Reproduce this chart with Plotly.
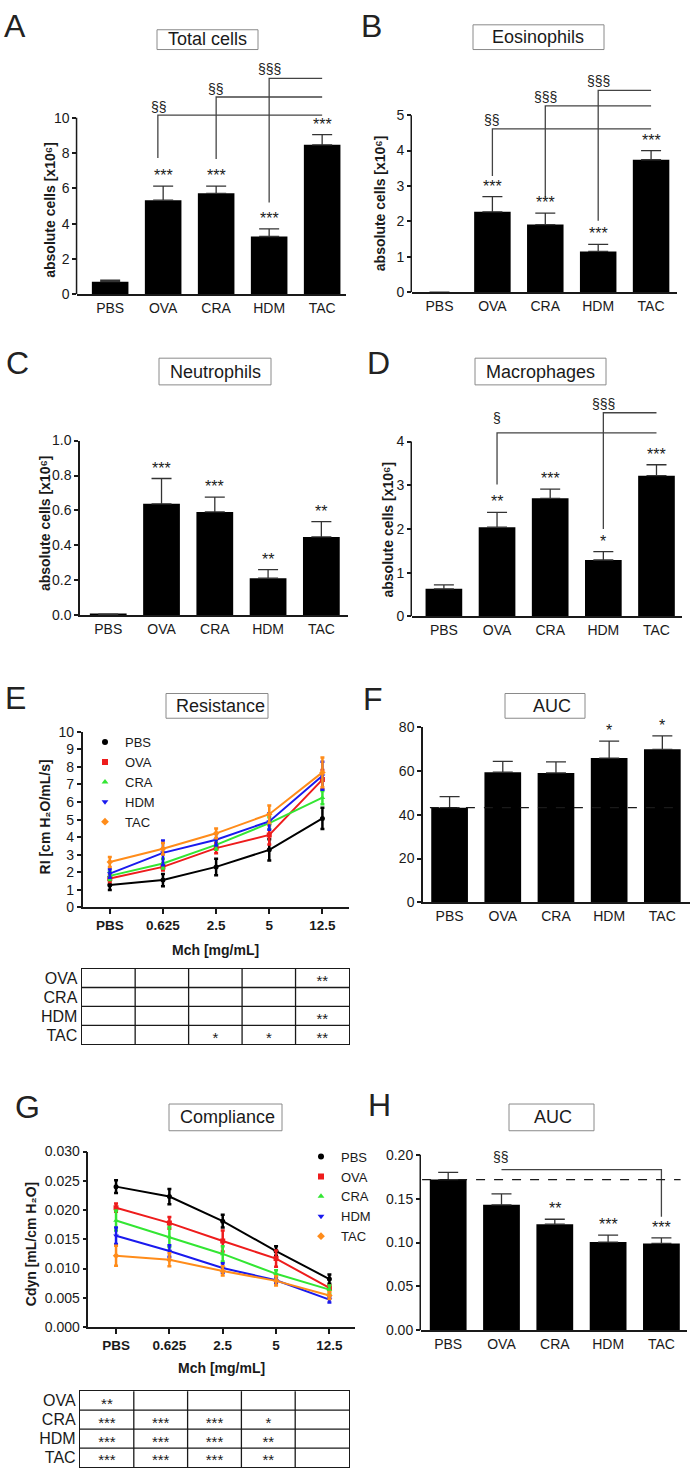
import plotly.graph_objects as go

W, H = 694, 1481
FONT = "Liberation Sans, Arial, Helvetica, sans-serif"
INK = "#1a1a1a"

groups = ["PBS", "OVA", "CRA", "HDM", "TAC"]
doses = ["PBS", "0.625", "2.5", "5", "12.5"]

# ---- A: Total cells
total_mean = [0.71, 5.33, 5.72, 3.27, 8.47]
total_sem = [0.08, 0.80, 0.41, 0.43, 0.58]
total_sig = ["", "***", "***", "***", "***"]
# (x_from, x_to, y_line, drop_from, drop_to, label, label_x, label_y)
total_brackets = [(0.9, 4, 10.15, 7.72, None, "§§", 0.92, 10.6),
                  (2, 4, 11.18, 7.66, None, "§§", 2.0, 11.64),
                  (3, 4, 12.24, 5.2, None, "§§§", 3.0, 12.77)]

# ---- B: Eosinophils
eos_mean = [0.0, 2.27, 1.91, 1.15, 3.74]
eos_sem = [0.0, 0.43, 0.32, 0.20, 0.26]
eos_sig = ["", "***", "***", "***", "***"]
eos_brackets = [(1, 4, 4.61, 3.28, None, "§§", 1, 4.86),
                (2, 4, 5.26, 2.67, None, "§§§", 2, 5.51),
                (3, 4, 5.70, 2.02, None, "§§§", 3, 5.96)]

# ---- C: Neutrophils
neu_mean = [0.005, 0.638, 0.592, 0.213, 0.449]
neu_sem = [0.002, 0.145, 0.085, 0.049, 0.087]
neu_sig = ["", "***", "***", "**", "**"]

# ---- D: Macrophages
mac_mean = [0.63, 2.04, 2.70, 1.29, 3.22]
mac_sem = [0.09, 0.34, 0.21, 0.19, 0.25]
mac_sig = ["", "**", "***", "*", "***"]
mac_brackets = [(1, 4, 4.20, 3.02, None, "§", 1, 4.53),
                (3, 4, 4.66, 2.0, None, "§§§", 3, 4.87)]

# ---- E: Resistance
res_mean = {
    "PBS": [1.28, 1.56, 2.31, 3.28, 5.07],
    "OVA": [1.65, 2.31, 3.38, 4.13, 7.28],
    "CRA": [1.80, 2.50, 3.56, 4.80, 6.25],
    "HDM": [1.93, 3.11, 3.86, 4.90, 7.50],
    "TAC": [2.59, 3.34, 4.22, 5.31, 7.69],
}
res_sem = {
    "PBS": [0.28, 0.35, 0.47, 0.60, 0.60],
    "OVA": [0.20, 0.20, 0.30, 0.55, 0.55],
    "CRA": [0.23, 0.28, 0.28, 0.33, 0.38],
    "HDM": [0.24, 0.70, 0.33, 0.47, 0.80],
    "TAC": [0.28, 0.33, 0.28, 0.50, 0.85],
}
res_table = {"OVA": ["", "", "", "", "**"],
             "CRA": ["", "", "", "", ""],
             "HDM": ["", "", "", "", "**"],
             "TAC": ["", "", "*", "*", "**"]}

# ---- F: AUC resistance
aucr_mean = [43.3, 59.5, 59.2, 66.0, 70.0]
aucr_sem = [5.0, 5.0, 5.0, 7.7, 6.1]
aucr_sig = ["", "", "", "*", "*"]

# ---- G: Compliance
cmp_mean = {
    "PBS": [0.0240, 0.0223, 0.0181, 0.0130, 0.0082],
    "OVA": [0.0204, 0.0178, 0.0147, 0.0117, 0.0067],
    "CRA": [0.0182, 0.0154, 0.0125, 0.0091, 0.0064],
    "HDM": [0.0156, 0.0130, 0.0101, 0.0080, 0.0047],
    "TAC": [0.0122, 0.0115, 0.0096, 0.0079, 0.0054],
}
cmp_sem = {
    "PBS": [0.0011, 0.0013, 0.0011, 0.0008, 0.0008],
    "OVA": [0.0007, 0.0010, 0.0018, 0.0014, 0.0004],
    "CRA": [0.0017, 0.0017, 0.0013, 0.0006, 0.0007],
    "HDM": [0.0014, 0.0010, 0.0008, 0.0005, 0.0005],
    "TAC": [0.0017, 0.0011, 0.0008, 0.0008, 0.0006],
}
cmp_table = {"OVA": ["**", "", "", "", ""],
             "CRA": ["***", "***", "***", "*", ""],
             "HDM": ["***", "***", "***", "**", ""],
             "TAC": ["***", "***", "***", "**", ""]}

# ---- H: AUC compliance
aucc_mean = [0.1717, 0.143, 0.1209, 0.1005, 0.099]
aucc_sem = [0.0083, 0.0125, 0.0056, 0.0079, 0.0064]
aucc_sig = ["", "", "**", "***", "***"]
aucc_brackets = [(1, 4, 0.183, None, 0.1295, "§§", 1, 0.198)]

series_colors = {"PBS": "#000000", "OVA": "#ee1c1c", "CRA": "#33e633",
                 "HDM": "#1a1aee", "TAC": "#ff8c1a"}
series_symbols = {"PBS": "circle", "OVA": "square", "CRA": "triangle-up",
                  "HDM": "triangle-down", "TAC": "diamond"}

# ---------------------------------------------------------------------------
traces, shapes, annotations = [], [], []
layout = dict(width=W, height=H, margin=dict(l=0, r=0, t=0, b=0),
              paper_bgcolor="white", plot_bgcolor="rgba(0,0,0,0)",
              font=dict(family=FONT, color=INK, size=14), showlegend=True)


def px_x(p):
    return p / W


def px_y(p):
    return 1 - p / H


def ids(n):
    s = "" if n == 1 else str(n)
    return "x" + s, "y" + s, "xaxis" + s, "yaxis" + s


def axes(n, xdom, xr, y0px, yref_px, yref_val, ytop, ymax, dtick, fmt,
         xticktext, xbold=False, xticks=""):
    xid, yid, xk, yk = ids(n)
    ppu = (y0px - yref_px) / yref_val
    top_px = y0px - ppu * ytop
    nt = int(round(ymax / dtick))
    tv = [i * dtick for i in range(nt + 1)]
    layout[xk] = dict(domain=[px_x(xdom[0]), px_x(xdom[1])], range=xr, anchor=yid,
                      tickmode="array", tickvals=list(range(len(xticktext))),
                      ticktext=xticktext,
                      ticks=xticks, ticklen=5, tickwidth=1.5, tickcolor=INK,
                      showline=True, linecolor=INK, linewidth=1.5,
                      showgrid=False, zeroline=False,
                      tickfont=dict(size=14 if not xbold else 13.5,
                                    weight="bold" if xbold else "normal"),
                      fixedrange=True)
    layout[yk] = dict(domain=[px_y(y0px), px_y(top_px)], range=[0, ytop], anchor=xid,
                      tickmode="array", tickvals=tv, ticks="outside", ticklen=4,
                      tickwidth=1.5, tickcolor=INK, showline=(ytop == ymax),
                      linecolor=INK, linewidth=1.5, showgrid=False, zeroline=False,
                      tickformat=fmt, tickfont=dict(size=14), fixedrange=True)
    if ytop != ymax:
        shapes.append(dict(type="line", xref="paper", yref=yid,
                           x0=px_x(xdom[0]) - 0.75 / W, x1=px_x(xdom[0]) - 0.75 / W,
                           y0=0, y1=ymax, line=dict(color=INK, width=1.5)))
    return xid, yid


def bar_panel(n, means, sems, sig, brackets, **kw):
    xid, yid = axes(n, xticktext=groups, **kw)
    xs = list(range(len(groups)))
    traces.append(go.Bar(x=xs, y=means, width=0.69, marker=dict(color="black", line=dict(width=0)),
                         error_y=dict(type="data", array=sems, arrayminus=[0] * len(sems),
                                      symmetric=False, color="#333333", thickness=1.3, width=10),
                         xaxis=xid, yaxis=yid, showlegend=False, hoverinfo="skip"))
    for x, m, s, t in zip(xs, means, sems, sig):
        if t:
            annotations.append(dict(xref=xid, yref=yid, x=x, y=m + s, text=t, showarrow=False,
                                    yanchor="bottom", font=dict(size=16, color=INK)))
    for (xa, xb, yl, da, db, lab, lx, ly) in brackets:
        path = ""
        if da is not None:
            path += "M%s,%s L%s,%s " % (xa, da, xa, yl)
        else:
            path += "M%s,%s " % (xa, yl)
        path += "L%s,%s" % (xb, yl)
        if db is not None:
            path += " L%s,%s" % (xb, db)
        shapes.append(dict(type="path", xref=xid, yref=yid, path=path,
                           line=dict(color="#444444", width=1.3)))
        annotations.append(dict(xref=xid, yref=yid, x=lx, y=ly, text=lab, showarrow=False,
                                yanchor="middle", font=dict(size=14, color=INK)))
    return xid, yid


def line_panel(n, means, sems, legend_name, **kw):
    xid, yid = axes(n, xticktext=doses, xbold=True, xticks="outside", **kw)
    xs = list(range(len(doses)))
    for g in groups:
        traces.append(go.Scatter(x=xs, y=means[g], mode="lines+markers",
                                 line=dict(color=series_colors[g], width=2),
                                 marker=dict(symbol=series_symbols[g], color=series_colors[g], size=5),
                                 error_y=dict(type="data", array=sems[g], color=series_colors[g],
                                              thickness=2.5, width=2),
                                 xaxis=xid, yaxis=yid, showlegend=False, hoverinfo="skip"))
    for g in groups:
        traces.append(go.Scatter(x=[None], y=[None], mode="markers", name=g,
                                 marker=dict(symbol=series_symbols[g], color=series_colors[g], size=6),
                                 xaxis=xid, yaxis=yid, legend=legend_name, showlegend=True))
    return xid, yid


def table_panel(n, table, xdom, ydom):
    xid, yid, xk, yk = ids(n)
    rows = list(table.keys())
    layout[xk] = dict(domain=[px_x(xdom[0]), px_x(xdom[1])], range=[0, 5], anchor=yid,
                      showline=True, mirror=True, linecolor=INK, linewidth=1.3,
                      showticklabels=False, ticks="", showgrid=False, zeroline=False, fixedrange=True)
    layout[yk] = dict(domain=[px_y(ydom[1]), px_y(ydom[0])], range=[len(rows), 0], anchor=xid,
                      showline=True, mirror=True, linecolor=INK, linewidth=1.3,
                      tickmode="array", tickvals=[i + 0.5 for i in range(len(rows))],
                      ticktext=rows, ticks="", tickfont=dict(size=16),
                      showgrid=False, zeroline=False, fixedrange=True)
    for r in range(1, len(rows)):
        shapes.append(dict(type="line", xref=xid + " domain", yref=yid, x0=0, x1=1, y0=r, y1=r,
                           line=dict(color=INK, width=1.3)))
    for c in range(1, 5):
        shapes.append(dict(type="line", xref=xid, yref=yid + " domain", x0=c, x1=c, y0=0, y1=1,
                           line=dict(color=INK, width=1.3)))
    tx, ty, tt = [], [], []
    for ri, r in enumerate(rows):
        for ci, v in enumerate(table[r]):
            if v:
                tx.append(ci + 0.5)
                ty.append(ri + 0.72)
                tt.append(v)
    traces.append(go.Scatter(x=tx, y=ty, text=tt, mode="text", textposition="middle center",
                             textfont=dict(size=15, color=INK), cliponaxis=False,
                             xaxis=xid, yaxis=yid, showlegend=False, hoverinfo="skip"))


# ---- build panels
bar_panel(1, total_mean, total_sem, total_sig, total_brackets,
          xdom=(77.3, 346), xr=[-0.62, 4.45], y0px=289.3, yref_px=111, yref_val=10,
          ytop=13.5, ymax=10, dtick=2, fmt="d")
bar_panel(2, eos_mean, eos_sem, eos_sig, eos_brackets,
          xdom=(412, 677), xr=[-0.52, 4.49], y0px=287.3, yref_px=108.3, yref_val=5,
          ytop=6.2, ymax=5, dtick=1, fmt="d")
bar_panel(3, neu_mean, neu_sem, neu_sig, [],
          xdom=(80, 348), xr=[-0.53, 4.5], y0px=614, yref_px=437.3, yref_val=1.0,
          ytop=1.0, ymax=1.0, dtick=0.2, fmt=".1f")
bar_panel(4, mac_mean, mac_sem, mac_sig, mac_brackets,
          xdom=(412, 682), xr=[-0.6, 4.48], y0px=615, yref_px=438.3, yref_val=4,
          ytop=5.0, ymax=4, dtick=1, fmt="d")
line_panel(5, res_mean, res_sem, "legend",
           xdom=(82.7, 349), xr=[-0.51, 4.5], y0px=909.3, yref_px=731.7, yref_val=10,
           ytop=10, ymax=10, dtick=1, fmt="d")
xf, yf = bar_panel(6, aucr_mean, aucr_sem, aucr_sig, [],
                   xdom=(423, 690), xr=[-0.5, 4.52], y0px=904, yref_px=727.3, yref_val=80,
                   ytop=80, ymax=80, dtick=20, fmt="d")
line_panel(7, cmp_mean, cmp_sem, "legend2",
           xdom=(88.3, 355), xr=[-0.52, 4.48], y0px=1333.5, yref_px=1156, yref_val=0.030,
           ytop=0.030, ymax=0.030, dtick=0.005, fmt=".3f")
xh, yh = bar_panel(8, aucc_mean, aucc_sem, aucc_sig, aucc_brackets,
                   xdom=(421, 687), xr=[-0.51, 4.48], y0px=1336.7, yref_px=1159.3, yref_val=0.20,
                   ytop=0.21, ymax=0.20, dtick=0.05, fmt=".2f")
table_panel(9, res_table, (81.7, 349), (971, 1047.7))
table_panel(10, cmp_table, (80, 349), (1398.3, 1475))

# dashed reference lines at PBS level
shapes.append(dict(type="line", xref=xf, yref=yf, x0=-0.37, x1=4.33, y0=aucr_mean[0], y1=aucr_mean[0],
                   line=dict(color=INK, width=1.2, dash="dash")))
shapes.append(dict(type="line", xref=xh, yref=yh, x0=-0.49, x1=4.36, y0=aucc_mean[0], y1=aucc_mean[0],
                   line=dict(color=INK, width=1.2, dash="dash")))

# ---- panel letters
letters = [("A", 15, 18.5), ("B", 371, 18.5), ("C", 17.5, 359), ("D", 378.5, 359),
           ("E", 15, 698), ("F", 373.5, 699), ("G", 27.5, 1111), ("H", 379.5, 1109)]
for t, x, y in letters:
    annotations.append(dict(xref="paper", yref="paper", x=px_x(x), y=px_y(y), text=t,
                            showarrow=False, xanchor="center", yanchor="middle",
                            font=dict(size=32, color="#222222")))

# ---- title boxes
titles = [("Total cells", (157, 258, 22, 42), (207, 31)),
          ("Eosinophils", (473, 604, 17, 42), (538, 29.5)),
          ("Neutrophils", (159, 271, 354, 381), (215.5, 367.5)),
          ("Macrophages", (475, 606, 354, 381), (540.5, 367.5)),
          ("Resistance", (166, 268, 693, 718), (220, 705.5)),
          ("AUC", (505, 585, 693, 718), (552, 705.5)),
          ("Compliance", (169, 282, 1108, 1135), (227, 1121.5)),
          ("AUC", (509, 594, 1108, 1135), (553, 1121.5))]
for t, (x0, x1, y0, y1), (tx, ty) in titles:
    shapes.append(dict(type="rect", xref="paper", yref="paper", x0=px_x(x0), x1=px_x(x1),
                       y0=px_y(y1), y1=px_y(y0), line=dict(color="#8a8a8a", width=1),
                       fillcolor="white", layer="below"))
    annotations.append(dict(xref="paper", yref="paper", x=px_x(tx), y=px_y(ty), text=t,
                            showarrow=False, xanchor="center", yanchor="middle",
                            font=dict(size=18, color=INK)))

# ---- axis titles (unicode super/subscripts)
cells_title = "absolute cells [x10\u2076]"
ytitles = [(cells_title, 50, 204),
           (cells_title, 380.3, 197),
           (cells_title, 45, 520.7),
           (cells_title, 387.7, 527.5),
           ("RI [cm H\u2082O/mL/s]", 45, 818.3),
           ("Cdyn [mL/cm H\u2082O]", 31.7, 1250)]
for t, x, y in ytitles:
    annotations.append(dict(xref="paper", yref="paper", x=px_x(x), y=px_y(y), text=t,
                            showarrow=False, textangle=-90, xanchor="center", yanchor="middle",
                            font=dict(size=14, color=INK, weight="bold")))
for x, y in [(215, 952), (221.7, 1375)]:
    annotations.append(dict(xref="paper", yref="paper", x=px_x(x), y=px_y(y),
                            text="Mch [mg/mL]", showarrow=False,
                            xanchor="center", yanchor="middle",
                            font=dict(size=14, color=INK, weight="bold")))

layout["legend"] = dict(x=px_x(85), y=px_y(727), xanchor="left", yanchor="top",
                        bgcolor="rgba(0,0,0,0)", borderwidth=0, font=dict(size=13, color=INK),
                        tracegroupgap=0)
layout["legend2"] = dict(x=px_x(301), y=px_y(1146), xanchor="left", yanchor="top",
                         bgcolor="rgba(0,0,0,0)", borderwidth=0, font=dict(size=13, color=INK),
                         tracegroupgap=0)
layout["shapes"] = shapes
layout["annotations"] = annotations

fig = go.Figure(data=traces, layout=layout)
fig.write_html("out.html", config={"displayModeBar": False},
               post_script="document.body.style.margin='0';document.body.style.overflow='hidden';")
